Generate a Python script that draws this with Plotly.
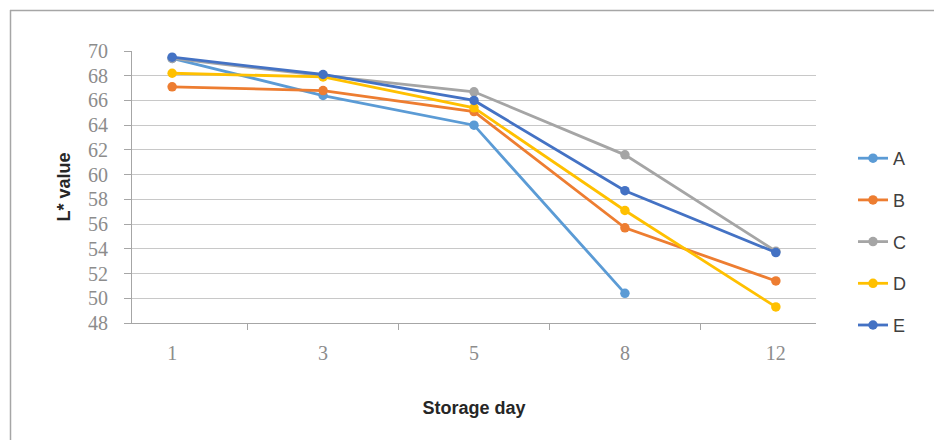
import plotly.graph_objects as go

days = ["1", "3", "5", "8", "12"]
series_names = ["A", "B", "C", "D", "E"]
A = [69.4, 66.4, 64.0, 50.4, None]
B = [67.1, 66.8, 65.1, 55.7, 51.4]
C = [69.4, 68.0, 66.7, 61.6, 53.8]
D = [68.2, 67.9, 65.4, 57.1, 49.3]
E = [69.5, 68.1, 66.0, 58.7, 53.7]
values = [A, B, C, D, E]
colors = ["#5B9BD5", "#ED7D31", "#A5A5A5", "#FFC000", "#4472C4"]
y_ticks = list(range(48, 71, 2))

fig = go.Figure()
for name, vals, col in zip(series_names, values, colors):
    fig.add_trace(go.Scatter(
        x=days, y=vals, name=name, mode="lines+markers",
        line=dict(color=col, width=2.8),
        marker=dict(color=col, size=9.5),
        legendgroup=name, connectgaps=False,
    ))

OFF = 8  # page offset of the figure inside the browser window
W, H = 942, 440
L, R, T, B_ = 132 - OFF, 126 + OFF, 51 - OFF, 117 + OFF
pw, ph = W - L - R, H - T - B_

def px_x(p):
    return (p - OFF - L) / pw

def px_y(p):
    return (H - B_ - (p - OFF)) / ph

fig.update_layout(
    width=W, height=H,
    margin=dict(l=L, r=R, t=T, b=B_, autoexpand=False),
    paper_bgcolor="white", plot_bgcolor="white",
    showlegend=True,
    legend=dict(
        x=px_x(853), xanchor="left", y=px_y(140), yanchor="top",
        font=dict(family="Liberation Sans", size=18, color="#404040"),
        tracegroupgap=15.3, bgcolor="rgba(0,0,0,0)", itemwidth=30,
    ),
    shapes=[
        dict(type="line", xref="paper", yref="paper",
             x0=px_x(10), x1=px_x(960), y0=px_y(10.5), y1=px_y(10.5),
             line=dict(color="#a6a6a6", width=1.5)),
        dict(type="line", xref="paper", yref="paper",
             x0=px_x(10.5), x1=px_x(10.5), y0=px_y(10), y1=px_y(460),
             line=dict(color="#a6a6a6", width=1.5)),
    ],
)

fig.update_xaxes(
    type="category", categoryorder="array", categoryarray=days,
    tickson="boundaries", ticks="outside", ticklen=6, tickcolor="#a6a6a6",
    ticklabelstandoff=12,
    showline=True, linecolor="#a6a6a6", linewidth=1.2,
    showgrid=False,
    tickfont=dict(family="Liberation Serif", size=20, color="#8c8c8c"),
    title=dict(text="<b>Storage day</b>", standoff=38,
               font=dict(family="Liberation Sans", size=18, color="#262626")),
)
fig.update_yaxes(
    range=[48, 70], tickvals=y_ticks, ticks="outside", ticklen=7,
    tickcolor="#a6a6a6", ticklabelstandoff=12,
    showline=True, linecolor="#a6a6a6", linewidth=1.2,
    showgrid=True, gridcolor="#c8c8c8", gridwidth=1.2, zeroline=False,
    tickfont=dict(family="Liberation Serif", size=20, color="#8c8c8c"),
    title=dict(text="<b>L* value</b>", standoff=12,
               font=dict(family="Liberation Sans", size=18, color="#262626")),
)

fig.write_html("out.html")
